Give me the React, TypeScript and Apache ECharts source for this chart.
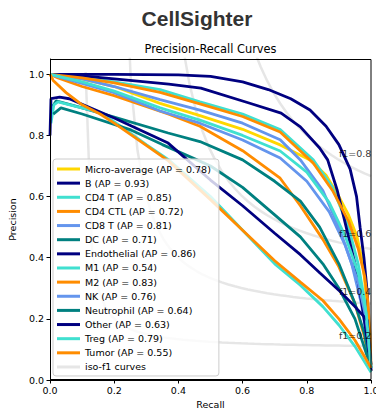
import React, { useEffect, useRef } from "react";
import * as echarts from "echarts";

// ---------- data ----------
const CLASS_NAMES = ["B", "CD4 T", "CD4 CTL", "CD8 T", "DC", "Endothelial", "M1", "M2", "NK", "Neutrophil", "Other", "Treg", "Tumor"];
const CLASS_AP = [0.93, 0.85, 0.72, 0.81, 0.71, 0.86, 0.54, 0.83, 0.76, 0.64, 0.63, 0.79, 0.55];
const MICRO_AP = 0.78;
const ISO_F1_SCORES = [0.2, 0.4, 0.6, 0.8];
const TICKS = [0, 0.2, 0.4, 0.6, 0.8, 1.0];

const MICRO_RECALL = [0, 0.1, 0.2, 0.343, 0.467, 0.6, 0.717, 0.81, 0.86, 0.9, 0.93, 0.956, 0.975, 0.99, 1.0];
const MICRO_PRECISION = [1, 0.985, 0.96, 0.905, 0.865, 0.82, 0.769, 0.72, 0.67, 0.6, 0.54, 0.47, 0.38, 0.22, 0.04];

const B_RECALL = [0, 0.2, 0.4, 0.5, 0.6, 0.68, 0.75, 0.81, 0.86, 0.9, 0.935, 0.955, 0.966, 0.978, 0.988, 0.996, 1.0];
const B_PRECISION = [1, 1, 0.998, 0.993, 0.975, 0.95, 0.92, 0.883, 0.83, 0.77, 0.69, 0.6, 0.5, 0.4, 0.29, 0.12, 0.03];

const CD4T_RECALL = [0, 0.1, 0.2, 0.343, 0.467, 0.6, 0.717, 0.82, 0.88, 0.93, 0.96, 0.98, 0.995, 1.0];
const CD4T_PRECISION = [1, 0.99, 0.975, 0.95, 0.91, 0.87, 0.819, 0.72, 0.63, 0.5, 0.38, 0.26, 0.12, 0.04];

const CD4CTL_RECALL = [0, 0.025, 0.1, 0.2, 0.368, 0.467, 0.6, 0.717, 0.78, 0.85, 0.9, 0.95, 0.98, 1.0];
const CD4CTL_PRECISION = [1, 0.988, 0.96, 0.93, 0.87, 0.83, 0.75, 0.66, 0.57, 0.46, 0.37, 0.25, 0.14, 0.03];

const CD8T_RECALL = [0, 0.1, 0.2, 0.343, 0.467, 0.6, 0.717, 0.78, 0.85, 0.9, 0.94, 0.97, 0.99, 1.0];
const CD8T_PRECISION = [1, 0.985, 0.96, 0.917, 0.883, 0.84, 0.786, 0.72, 0.62, 0.5, 0.38, 0.25, 0.12, 0.04];

const DC_RECALL = [0.008, 0.019, 0.1, 0.2, 0.368, 0.467, 0.6, 0.7, 0.78, 0.84, 0.9, 0.95, 0.98, 1.0];
const DC_PRECISION = [0.895, 0.913, 0.89, 0.86, 0.808, 0.78, 0.72, 0.65, 0.585, 0.5, 0.38, 0.25, 0.15, 0.04];

const ENDO_RECALL = [0, 0.1, 0.2, 0.37, 0.47, 0.62, 0.72, 0.78, 0.84, 0.865, 0.895, 0.925, 0.95, 0.97, 0.99, 1.0];
const ENDO_PRECISION = [1, 0.995, 0.985, 0.968, 0.955, 0.906, 0.873, 0.828, 0.759, 0.72, 0.62, 0.49, 0.38, 0.26, 0.12, 0.03];

const M1_RECALL = [0.003, 0.012, 0.025, 0.08, 0.156, 0.22, 0.3, 0.37, 0.5, 0.6, 0.7, 0.78, 0.85, 0.9, 0.95, 1.0];
const M1_PRECISION = [0.84, 0.9, 0.91, 0.895, 0.875, 0.83, 0.77, 0.72, 0.6, 0.49, 0.38, 0.31, 0.24, 0.18, 0.11, 0.025];

const M2_RECALL = [0, 0.1, 0.2, 0.343, 0.467, 0.6, 0.717, 0.82, 0.88, 0.93, 0.96, 0.98, 0.99, 0.997, 1.0];
const M2_PRECISION = [1, 0.988, 0.972, 0.941, 0.903, 0.862, 0.811, 0.71, 0.62, 0.52, 0.43, 0.34, 0.26, 0.15, 0.05];

const NK_RECALL = [0, 0.1, 0.2, 0.343, 0.467, 0.6, 0.717, 0.8, 0.87, 0.92, 0.96, 0.985, 1.0];
const NK_PRECISION = [1, 0.97, 0.94, 0.88, 0.84, 0.785, 0.726, 0.65, 0.55, 0.44, 0.32, 0.2, 0.04];

const NEUT_RECALL = [0.01, 0.034, 0.1, 0.252, 0.35, 0.458, 0.5, 0.6, 0.7, 0.78, 0.85, 0.9, 0.95, 1.0];
const NEUT_PRECISION = [0.87, 0.89, 0.87, 0.818, 0.77, 0.72, 0.7, 0.63, 0.54, 0.468, 0.38, 0.3, 0.2, 0.04];

const OTHER_RECALL = [0, 0.003, 0.03, 0.06, 0.2, 0.368, 0.5, 0.6, 0.7, 0.78, 0.841, 0.903, 0.95, 0.988, 1.0];
const OTHER_PRECISION = [0.8, 0.92, 0.925, 0.92, 0.857, 0.775, 0.654, 0.57, 0.48, 0.41, 0.35, 0.29, 0.24, 0.196, 0.05];

const TREG_RECALL = [0, 0.1, 0.2, 0.343, 0.467, 0.6, 0.717, 0.8, 0.87, 0.92, 0.96, 0.985, 1.0];
const TREG_PRECISION = [1, 0.975, 0.945, 0.89, 0.85, 0.8, 0.749, 0.68, 0.58, 0.47, 0.35, 0.22, 0.04];

const TUMOR_RECALL = [0, 0.01, 0.05, 0.1, 0.156, 0.2, 0.31, 0.37, 0.5, 0.6, 0.7, 0.78, 0.85, 0.9, 0.95, 1.0];
const TUMOR_PRECISION = [1, 0.98, 0.94, 0.9, 0.87, 0.84, 0.76, 0.716, 0.59, 0.49, 0.39, 0.32, 0.26, 0.2, 0.13, 0.04];

const CLASS_RECALL = [B_RECALL, CD4T_RECALL, CD4CTL_RECALL, CD8T_RECALL, DC_RECALL, ENDO_RECALL, M1_RECALL, M2_RECALL, NK_RECALL, NEUT_RECALL, OTHER_RECALL, TREG_RECALL, TUMOR_RECALL];
const CLASS_PRECISION = [B_PRECISION, CD4T_PRECISION, CD4CTL_PRECISION, CD8T_PRECISION, DC_PRECISION, ENDO_PRECISION, M1_PRECISION, M2_PRECISION, NK_PRECISION, NEUT_PRECISION, OTHER_PRECISION, TREG_PRECISION, TUMOR_PRECISION];

// ---------- styles ----------
const COLOR_CYCLE = ["#000080", "#40e0d0", "#ff8c00", "#6495ed", "#008080"];
const MICRO_COLOR = "#ffd700";
const ISO_COLOR = "rgba(128,128,128,0.2)";
const FONT = "DejaVu Sans";

const zip = (xs: number[], ys: number[]) => xs.map((x, i) => [x, ys[i]]);

// iso-F1 reference curves: precision = f*r/(2r - f), sampled as in sklearn's example
const ISO_X = Array.from({ length: 50 }, (_, i) => 0.01 + (i * 0.99) / 49);
const isoCurve = (f: number) =>
  ISO_X.map((x) => [x, (f * x) / (2 * x - f)]).filter((p) => p[1] >= 0);
const isoLabelY = (f: number) => (f * ISO_X[45]) / (2 * ISO_X[45] - f) + 0.02;

export default function App() {
  const ref = useRef<HTMLDivElement>(null);
  useEffect(() => {
    const chart = echarts.init(ref.current!, null, { renderer: "svg" });

    const microName = `Micro-average (AP = ${MICRO_AP.toFixed(2)})`;
    const classNames = CLASS_NAMES.map((n, i) => `${n} (AP = ${CLASS_AP[i].toFixed(2)})`);
    const isoName = "iso-f1 curves";

    const lineWidth = 2.8;
    const series: any[] = [];
    ISO_F1_SCORES.forEach((f) => {
      series.push({
        type: "line",
        name: isoName,
        data: isoCurve(f),
        showSymbol: false,
        color: ISO_COLOR,
        lineStyle: { color: ISO_COLOR, width: 2.5 },
        silent: true,
        z: 1,
      });
    });
    series.push({
      type: "line",
      name: microName,
      data: zip(MICRO_RECALL, MICRO_PRECISION),
      showSymbol: false,
      color: MICRO_COLOR,
      lineStyle: { color: MICRO_COLOR, width: lineWidth },
      z: 2,
    });
    CLASS_NAMES.forEach((_, i) => {
      const c = COLOR_CYCLE[i % COLOR_CYCLE.length];
      series.push({
        type: "line",
        name: classNames[i],
        data: zip(CLASS_RECALL[i], CLASS_PRECISION[i]),
        showSymbol: false,
        color: c,
        lineStyle: { color: c, width: lineWidth },
        z: 2,
      });
    });
    series.push({
      type: "scatter",
      name: "f1-labels",
      data: ISO_F1_SCORES.map((f) => ({ value: [0.9, isoLabelY(f)], name: `f1=${f.toFixed(1)}` })),
      symbolSize: 1,
      itemStyle: { color: "rgba(0,0,0,0)" },
      silent: true,
      clip: false,
      z: 3,
      label: {
        show: true,
        position: "inside",
        align: "left",
        verticalAlign: "bottom",
        offset: [0, 1],
        formatter: (p: any) => p.name,
        fontSize: 9.5,
        fontFamily: FONT,
        color: "#000",
      },
    });

    const axisText = { fontSize: 9.5, fontFamily: FONT, color: "#000" };

    chart.setOption({
      animation: false,
      backgroundColor: "#fff",
      grid: {
        left: 50,
        top: 59,
        width: 321,
        height: 321,
        show: false,
        containLabel: false,
        outerBoundsMode: "none",
      },
      xAxis: {
        type: "value",
        min: 0,
        max: 1,
        interval: 0.2,
        splitLine: { show: false },
        axisLine: { show: true, onZero: false, lineStyle: { color: "#000", width: 1 } },
        axisTick: { show: true, length: 3.5, lineStyle: { color: "#000" }, customValues: TICKS },
        axisLabel: { ...axisText, margin: 5, customValues: TICKS, formatter: (v: number) => v.toFixed(1) },
        name: "Recall",
        nameLocation: "middle",
        nameGap: 18,
        nameTextStyle: axisText,
      },
      yAxis: {
        type: "value",
        min: 0,
        max: 1.05,
        interval: 0.2,
        splitLine: { show: false },
        axisLine: { show: true, onZero: false, lineStyle: { color: "#000", width: 1 } },
        axisTick: { show: true, length: 3.5, lineStyle: { color: "#000" }, customValues: TICKS },
        axisLabel: { ...axisText, margin: 6, customValues: TICKS, formatter: (v: number) => v.toFixed(1) },
        name: "Precision",
        nameLocation: "middle",
        nameRotate: 90,
        nameGap: 27,
        nameTextStyle: axisText,
      },
      legend: {
        orient: "vertical",
        left: 53,
        top: 159,
        padding: [4, 8, 3, 4],
        itemGap: 2.14,
        itemWidth: 23,
        itemHeight: 3,
        icon: "rect",
        backgroundColor: "rgba(255,255,255,0.8)",
        borderColor: "#cccccc",
        borderWidth: 1,
        borderRadius: 3,
        selectedMode: false,
        textStyle: { fontSize: 9.5, fontFamily: FONT, color: "#000", lineHeight: 12 },
        data: [microName, ...classNames, isoName],
      },
      graphic: [
        {
          type: "rect",
          silent: true,
          z: 100,
          shape: { x: 50.5, y: 59.5, width: 320.5, height: 320 },
          style: { fill: "none", stroke: "#000", lineWidth: 1 },
        },
        {
          type: "text",
          x: 197,
          y: 18.5,
          style: {
            text: "CellSighter",
            font: "bold 21px 'Liberation Sans', Arial, sans-serif",
            fill: "#333333",
            textAlign: "center",
            textVerticalAlign: "middle",
          },
        },
        {
          type: "text",
          x: 210.5,
          y: 49.3,
          style: {
            text: "Precision-Recall Curves",
            font: `11.4px '${FONT}'`,
            fill: "#000",
            textAlign: "center",
            textVerticalAlign: "middle",
          },
        },
      ],
      series,
    });
    return () => chart.dispose();
  }, []);
  return <div ref={ref} style={{ position: "fixed", left: 0, top: 0, width: 376, height: 413 }} />;
}
